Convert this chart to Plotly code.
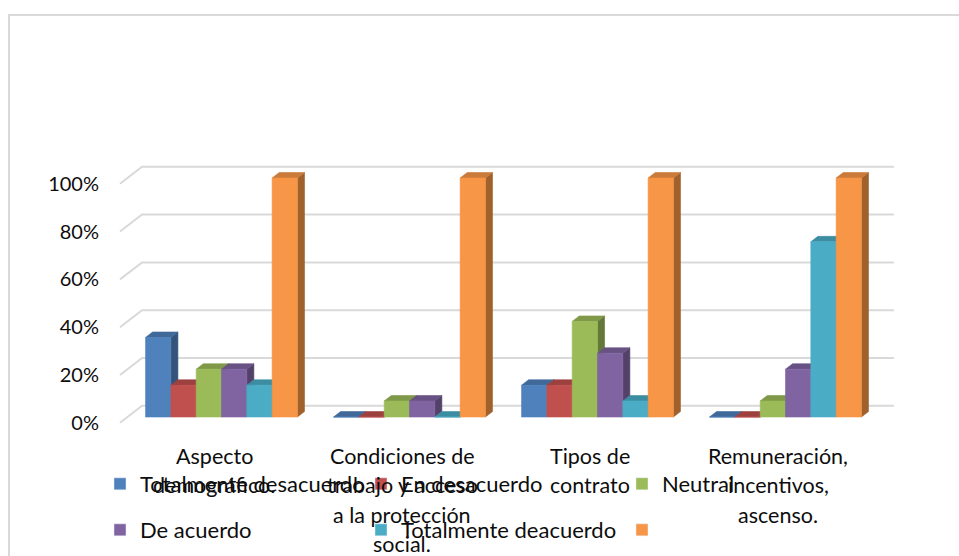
import plotly.graph_objects as go

# ---------------- data ----------------
category_lines = [
    ["Aspecto", "demográfico."],
    ["Condiciones de", "trabajo y acceso", "a la protección", "social."],
    ["Tipos de", "contrato"],
    ["Remuneración,", "incentivos,", "ascenso."],
]
series_names = ["Totalmente desacuerdo", "En desacuerdo", "Neutral",
                "De acuerdo", "Totalmente deacuerdo", ""]
totalmente_desacuerdo = [33.3, 0.0, 13.3, 0.0]
en_desacuerdo = [13.3, 0.0, 13.3, 0.0]
neutral = [20.0, 6.7, 40.0, 6.7]
de_acuerdo = [20.0, 6.7, 26.7, 20.0]
totalmente_deacuerdo = [13.3, 0.0, 6.7, 73.3]
serie_6 = [100.0, 100.0, 100.0, 100.0]
y_tick_values = [0, 20, 40, 60, 80, 100]
y_tick_labels = ["0%", "20%", "40%", "60%", "80%", "100%"]

series_values = [totalmente_desacuerdo, en_desacuerdo, neutral,
                 de_acuerdo, totalmente_deacuerdo, serie_6]
colors = ["#4F81BD", "#C0504D", "#9BBB59", "#8064A2", "#4BACC6", "#F79646"]

# ---------------- geometry / style ----------------
W, H = 959, 556
PL, PR, PT, PB = 100, 959, 0, 556             # plot area in pixels
XPX = 188.0                                   # px per category
YPX = 2.39                                    # px per percent
X0PX, Y0PX = 221.5, 417.0                     # pixel of (0, 0) on bar plane
xr = [(PL - X0PX) / XPX, (PR - X0PX) / XPX]
yr = [-(PB - Y0PX) / YPX, (Y0PX - PT) / YPX]

DX = 22.0 / XPX          # full floor depth in x units
DY = 17.0 / YPX          # full floor depth in y units
F_FRONT = 0.34           # bar front plane position in depth
BAR_D = 0.32             # bar depth as fraction of floor depth
bdx, bdy = BAR_D * DX, BAR_D * DY
GROUP_W = 0.808
BW = GROUP_W / len(series_names)
TEXT = "#0d0d0d"


def shade(hexc, f):
    h = hexc.lstrip("#")
    r, g, b = (int(h[i:i + 2], 16) for i in (0, 2, 4))
    return "rgb(%d,%d,%d)" % (r * f, g * f, b * f)


def paper_y(py):
    return (PB - py) / (PB - PT)


def paper_x(px):
    return (px - PL) / (PR - PL)


fig = go.Figure()

# gridlines (back wall + left wall diagonals)
grid_color = "#D9D9D9"
xl_front = -0.5 - F_FRONT * DX
xl_back = -0.5 + (1 - F_FRONT) * DX
xr_back = len(category_lines) - 0.5 + (1 - F_FRONT) * DX
for v in y_tick_values:
    yb = v + (1 - F_FRONT) * DY
    yf = v - F_FRONT * DY
    fig.add_trace(go.Scatter(
        x=[xl_front, xl_back, xr_back], y=[yf, yb, yb], mode="lines",
        line=dict(color=grid_color, width=2), hoverinfo="skip",
        showlegend=False))

# 3D bars
for i in range(len(category_lines)):
    for j, vals in enumerate(series_values):
        v = vals[i]
        c = colors[j]
        x0 = i - GROUP_W / 2 + j * BW
        x1 = x0 + BW
        faces = [
            ([x1, x1 + bdx, x1 + bdx, x1, x1], [0, bdy, v + bdy, v, 0], shade(c, 0.65)),
            ([x0, x1, x1 + bdx, x0 + bdx, x0], [v, v, v + bdy, v + bdy, v], shade(c, 0.82)),
            ([x0, x1, x1, x0, x0], [0, 0, v, v, 0], c),
        ]
        for fx, fy, fc in faces:
            fig.add_trace(go.Scatter(
                x=fx, y=fy, mode="lines", fill="toself", fillcolor=fc,
                line=dict(color=fc, width=0.6), hoverinfo="skip",
                showlegend=False))

# legend entries
for j, name in enumerate(series_names):
    fig.add_trace(go.Bar(
        x=[None], y=[None], name=name, marker_color=colors[j],
        legend="legend" if j < 3 else "legend2", showlegend=True))

# category labels (each wrapped line)
for i, lines in enumerate(category_lines):
    for k, txt in enumerate(lines):
        fig.add_annotation(
            x=i - F_FRONT * DX, xref="x", y=paper_y(455.5 + 29.5 * k), yref="paper",
            text=txt, showarrow=False, xanchor="center", yanchor="middle",
            font=dict(family="Lato", size=21.5, color=TEXT))

# chart border
fig.add_shape(type="rect", xref="paper", yref="paper",
              x0=paper_x(9), x1=paper_x(990), y0=paper_y(620), y1=paper_y(15),
              line=dict(color="#D9D9D9", width=2), fillcolor="rgba(0,0,0,0)",
              layer="below")

legend_common = dict(
    orientation="h", xanchor="left", yanchor="middle",
    entrywidth=216, entrywidthmode="pixels", itemwidth=30,
    font=dict(family="Lato", size=22, color=TEXT),
    bgcolor="rgba(0,0,0,0)", traceorder="normal", itemclick=False)

fig.update_layout(
    width=W, height=H,
    margin=dict(l=PL, r=W - PR, t=PT, b=H - PB, pad=0),
    paper_bgcolor="white", plot_bgcolor="white",
    font=dict(family="Lato", size=20, color=TEXT),
    showlegend=True,
    legend=dict(x=0, y=paper_y(484), **legend_common),
    legend2=dict(x=0, y=paper_y(530), **legend_common),
    xaxis=dict(range=xr, showgrid=False, zeroline=False, showticklabels=False,
               showline=False, fixedrange=True),
    yaxis=dict(range=yr, showgrid=False, zeroline=False, showline=False,
               tickvals=[v - F_FRONT * DY for v in y_tick_values],
               ticktext=y_tick_labels, ticks="", ticklabelstandoff=0,
               tickfont=dict(family="Lato", size=20, color=TEXT),
               fixedrange=True),
)

fig.write_html("out.html")
